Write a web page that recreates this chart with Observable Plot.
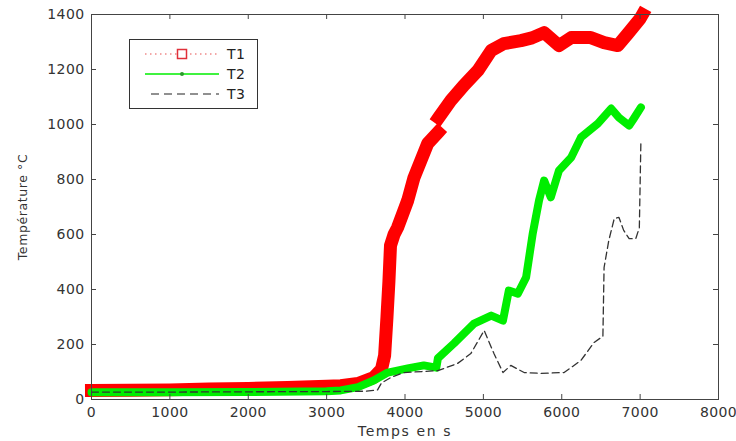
<!DOCTYPE html>
<html>
<head>
<meta charset="utf-8">
<script src="https://cdn.jsdelivr.net/npm/d3@7"></script>
<script src="https://cdn.jsdelivr.net/npm/@observablehq/plot@0.6"></script>
<style>
  body { margin: 0; background: #fff; }
  #wrap { position: relative; width: 736px; height: 441px; font-family: "DejaVu Sans", sans-serif; }
  #wrap svg text { letter-spacing: 0.4px; }
  #legend { position: absolute; left: 129px; top: 39px; width: 127px; height: 68px; background: #fff; border: 1px solid #333; }
</style>
</head>
<body>
<div id="wrap"></div>
<script>
// ---- data ----
const xTicks = [0, 1000, 2000, 3000, 4000, 5000, 6000, 7000, 8000];
const yTicks = [0, 200, 400, 600, 800, 1000, 1200, 1400];
const xLabel = "Temps en s";
const yLabel = "Température °C";
const seriesNames = ["T1", "T2", "T3"];

const t1Time = [0, 500, 1000, 1500, 2000, 2500, 3000, 3180, 3400, 3600, 3700, 3740, 3770, 3795, 3815, 3860, 3905, 4035, 4115, 4290, 4420, 4425, 4430, 4585, 4750, 4930, 5100, 5260, 5480, 5620, 5775, 5965, 6120, 6370, 6540, 6715, 6845, 7000, 7030];
const t1Temp = [33, 34, 35, 38, 40, 44, 48, 50, 58, 80, 110, 160, 300, 430, 560, 600, 625, 724, 807, 931, 971, NaN, 1025, 1087, 1142, 1196, 1269, 1294, 1305, 1315, 1334, 1287, 1316, 1316, 1298, 1287, 1331, 1385, 1400];

const t2Time = [0, 1000, 2000, 3000, 3180, 3400, 3600, 3780, 4035, 4240, 4400, 4420, 4625, 4880, 5100, 5250, 5325, 5440, 5545, 5630, 5710, 5775, 5860, 5965, 6120, 6245, 6460, 6630, 6730, 6860, 6920, 7010];
const t2Temp = [26, 26, 27, 30, 33, 45, 69, 98, 113, 124, 116, 150, 204, 276, 305, 287, 396, 385, 444, 604, 724, 796, 735, 833, 880, 953, 1003, 1058, 1025, 996, 1022, 1062];

const t3Time = [0, 1000, 2000, 3000, 3500, 3650, 3700, 3820, 3985, 4420, 4670, 4840, 5010, 5135, 5250, 5350, 5520, 5735, 6030, 6245, 6410, 6525, 6540, 6600, 6670, 6730, 6790, 6860, 6945, 6990, 7010];
const t3Temp = [27, 27, 28, 29, 30, 35, 60, 80, 98, 105, 131, 167, 251, 167, 98, 124, 98, 95, 98, 142, 207, 230, 480, 578, 658, 662, 615, 585, 585, 625, 942];

const colors = ["#ff0000", "#00ee00", "#333333"];

// ---- build tables ----
const t1 = t1Time.map((t, i) => ({t, v: t1Temp[i]}));
const t2 = t2Time.map((t, i) => ({t, v: t2Temp[i]}));
const t3 = t3Time.map((t, i) => ({t, v: t3Temp[i]}));

const W = 736, H = 441, mL = 91, mR = 18, mT = 14, mB = 42;
const plotW = W - mL - mR, plotH = H - mT - mB;
const tick = 5;

const chart = Plot.plot({
  width: W, height: H,
  marginLeft: mL, marginRight: mR, marginTop: mT, marginBottom: mB,
  style: {fontFamily: "DejaVu Sans, sans-serif", fontSize: "14px", color: "#333", background: "#fff"},
  x: {domain: [0, 8000]},
  y: {domain: [0, 1400]},
  marks: [
    Plot.line(t1, {x: "t", y: "v", stroke: colors[0], strokeWidth: 13, strokeLinejoin: "round", strokeLinecap: "square"}),
    Plot.line(t2, {x: "t", y: "v", stroke: colors[1], strokeWidth: 8, strokeLinejoin: "round", strokeLinecap: "round"}),
    Plot.line(t3, {x: "t", y: "v", stroke: colors[2], strokeWidth: 1.3, strokeDasharray: "7,4"}),
    Plot.frame({stroke: "#444", strokeWidth: 1}),
    Plot.tickX(xTicks, {x: d => d, insetTop: plotH - tick, stroke: "#444"}),
    Plot.tickX(xTicks, {x: d => d, insetBottom: plotH - tick, stroke: "#444"}),
    Plot.tickY(yTicks, {y: d => d, insetRight: plotW - tick, stroke: "#444"}),
    Plot.tickY(yTicks, {y: d => d, insetLeft: plotW - tick, stroke: "#444"}),
    Plot.axisX(xTicks, {tickSize: 0, tickPadding: 8, tickFormat: d => String(d), label: xLabel, labelAnchor: "center", labelArrow: "none", labelOffset: 36}),
    Plot.axisY(yTicks, {tickSize: 0, tickPadding: 7, tickFormat: d => String(d), label: yLabel, labelAnchor: "center", labelArrow: "none", labelOffset: 73})
  ]
});

const wrap = document.getElementById("wrap");
wrap.appendChild(chart);
chart.querySelectorAll("g[aria-label='y-axis label'] text").forEach(t => { t.setAttribute("font-size", "12.5"); t.style.letterSpacing = "0.6px"; });
chart.querySelectorAll("g[aria-label='x-axis label'] text").forEach(t => { t.style.letterSpacing = "1.6px"; });

// ---- legend (overlay) ----
const lg = document.createElement("div");
lg.id = "legend";
const ns = "http://www.w3.org/2000/svg";
const ls = document.createElementNS(ns, "svg");
ls.setAttribute("width", 127); ls.setAttribute("height", 68);
const rowY = [14, 34, 54];
seriesNames.forEach((name, i) => {
  const y = rowY[i];
  const line = document.createElementNS(ns, "line");
  line.setAttribute("x1", 15); line.setAttribute("x2", 89);
  line.setAttribute("y1", y); line.setAttribute("y2", y);
  if (i === 0) { line.setAttribute("stroke", "#f08a8a"); line.setAttribute("stroke-dasharray", "1.5,3.5"); line.setAttribute("stroke-width", 1.3); }
  if (i === 1) { line.setAttribute("stroke", colors[1]); line.setAttribute("stroke-width", 1.3); }
  if (i === 2) { line.setAttribute("stroke", "#222"); line.setAttribute("stroke-dasharray", "8,5"); line.setAttribute("stroke-width", 1.1); line.setAttribute("x1", 21); }
  ls.appendChild(line);
  if (i === 0) {
    const r = document.createElementNS(ns, "rect");
    r.setAttribute("x", 47.5); r.setAttribute("y", y - 4.5); r.setAttribute("width", 9); r.setAttribute("height", 9);
    r.setAttribute("fill", "#fff"); r.setAttribute("stroke", "#e0303a"); r.setAttribute("stroke-width", 1.5);
    ls.appendChild(r);
  }
  if (i === 1) {
    const c = document.createElementNS(ns, "circle");
    c.setAttribute("cx", 52); c.setAttribute("cy", y); c.setAttribute("r", 2);
    c.setAttribute("fill", "#2a9a2a");
    ls.appendChild(c);
  }
  const tx = document.createElementNS(ns, "text");
  tx.setAttribute("x", 97); tx.setAttribute("y", y + 5);
  tx.setAttribute("font-family", "DejaVu Sans, sans-serif");
  tx.setAttribute("font-size", 14); tx.setAttribute("fill", "#222");
  tx.textContent = name;
  ls.appendChild(tx);
});
lg.appendChild(ls);
wrap.appendChild(lg);
</script>
</body>
</html>
